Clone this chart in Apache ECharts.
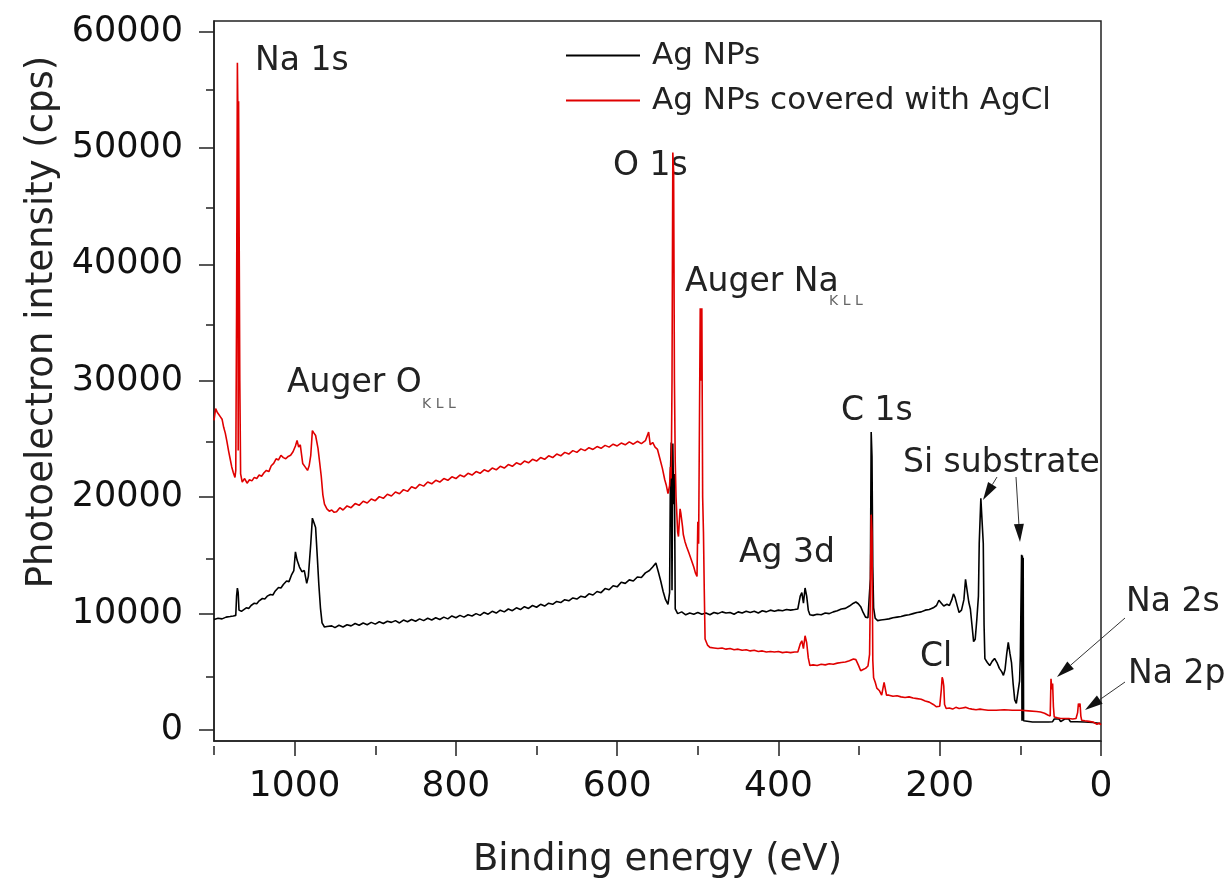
<!DOCTYPE html>
<html>
<head>
<meta charset="utf-8">
<script src="https://cdn.jsdelivr.net/npm/echarts@6/dist/echarts.min.js"></script>
<style>html,body{margin:0;padding:0;background:#fff;}#c{width:1226px;height:884px;}</style>
</head>
<body>
<div id="c"></div>
<script>
// ---- data (binding energy eV, intensity cps) ----
const seriesNames = ['Ag NPs', 'Ag NPs covered with AgCl'];
const xTickValues = [0, 200, 400, 600, 800, 1000];
const xMinorTickValues = [100, 300, 500, 700, 900, 1100];
const yTickValues = [0, 10000, 20000, 30000, 40000, 50000, 60000];
const yMinorTickValues = [5000, 15000, 25000, 35000, 45000, 55000];

const agNPs = [
[1100,9500],[1095,9600],[1090,9550],[1085,9700],[1080,9750],[1076,9800],[1073,9850],[1072,11500],[1071,12200],[1070,11800],[1069,10300],
[1066,10200],[1063,10350],[1060,10500],[1057,10450],[1054,10700],[1050,10900],[1047,10850],[1044,11100],[1040,11300],[1037,11250],
[1034,11500],[1030,11650],[1027,11600],[1024,11950],[1020,12250],[1017,12200],[1014,12500],[1010,12800],[1007,12750],[1004,13300],
[1001,13700],[999,15300],[997,14600],[994,14000],[991,13600],[988,13700],[985,12600],[983,13200],[980,16000],[978,18200],[976,17800],
[974,17400],[972,15000],[970,12500],[968,10500],[966,9200],[963,8850],[960,8900],
[958,8750],[954,8950],[950,8800],[945,9000],[940,8850],[935,9050],[930,8950],[925,9150],[920,9000],[915,9200],[910,9050],[905,9250],
[900,9100],[895,9300],[890,9150],[885,9350],[880,9250],[875,9400],[870,9200],[865,9450],[860,9300],[855,9500],[850,9350],[845,9550],
[840,9400],[835,9600],[830,9450],[825,9650],[820,9500],[815,9700],[810,9550],[805,9800],[800,9650],[795,9850],[790,9700],[785,9900],
[780,9800],[775,10000],[770,9850],[765,10100],[760,9950],[755,10200],[750,10050],[745,10300],[740,10150],[735,10400],[730,10250],
[725,10500],[720,10350],[715,10600],[710,10450],[705,10700],[700,10550],[695,10800],[690,10650],[685,10900],[680,10800],[675,11050],
[670,10950],[665,11200],[660,11100],[655,11350],[650,11250],[645,11500],[640,11400],[635,11700],[630,11600],[625,11900],[620,11800],
[615,12150],[610,12050],[605,12400],[600,12300],[595,12700],[590,12600],[585,12900],[580,12800],[575,13150],[570,13100],[565,13500],
[560,13700],[556,14000],[552,14350],[549,13600],[546,12800],[543,11900],[540,11200],[537,10800],[535,11800],[534,22000],[533,24700],
[532,12000],[531,24600],[530,19400],[529,22000],[528,10400],[525,10000],[520,10150],[515,9900],[510,10050],[505,9950],[500,10100],
[495,9950],[490,10050],[485,9900],[480,10100],[475,10000],[470,10150],[465,10050],[460,10100],[455,9950],[450,10150],[445,10050],
[440,10200],[435,10100],[430,10200],[425,10050],[420,10250],[415,10150],[410,10300],[405,10200],[400,10300],[395,10250],[390,10350],
[385,10300],[380,10350],[376,10400],[373,11500],[371,11800],[369,10900],[367,12200],[365,11500],[363,10300],[361,9900],[357,9850],
[352,9950],[347,9900],[342,10050],[337,10000],[332,10150],[327,10250],[322,10400],[317,10450],[312,10650],[307,10900],[304,11000],
[301,10850],[298,10600],[295,10100],[292,9700],[289,9650],[287,9800],[286,13000],[285,25600],[284,23500],[283,14000],[282,10500],
[280,9600],[277,9400],[273,9450],[268,9500],[263,9550],[258,9650],[253,9700],[248,9750],[243,9850],[238,9900],[233,10000],[228,10100],
[223,10150],[218,10300],[213,10350],[208,10500],[204,10700],[201,11150],[198,10900],[195,10650],[191,10800],[188,10700],[185,11200],
[183,11700],[181,11400],[178,10600],[176,10100],[173,10300],[170,11200],[168,12950],[166,12900],[164,11000],[162,10400],[160,9000],
[158,7600],[156,7800],[154,9500],[152,11500],[151,16050],[149,19900],[147,19900],[146,16050],[145,9000],[144,6130],[141,5800],
[138,5540],[135,5900],[132,6150],[129,5800],[126,5300],[123,5000],[121,4700],[119,5200],[117,6500],[115,7530],[113,6600],[111,5800],
[109,4000],[107,2600],[105,2300],[103,2150],[101,4200],[100,6400],[98.5,15060],[98,800],[97.5,15000],[97,800],[96.5,14800],[96,800],
[95,700],[94,700],[85,700],[75,700],[65,700],[60,720],[58,950],[52,950],[50,720],[45,950],[40,950],[38,720],[30,720],[20,700],
[10,650],[5,600],[0,550]
];

const agNPsAgCl = [
[1100,26600],[1098,27600],[1096,27300],[1094,27400],[1092,26900],[1090,26700],[1088,26000],[1086,25500],[1084,24800],[1082,24000],
[1080,23300],[1078,22600],[1076,22100],[1074,21700],[1073,22300],[1072,36000],[1071,57300],[1070.5,54000],[1070,24000],[1069.5,54000],
[1069,54000],[1068,30000],[1067,22000],[1065,21300],[1062,21600],[1059,21200],[1056,21500],[1053,21400],[1050,21700],[1047,21600],
[1044,21900],[1041,21800],[1038,22100],[1035,22300],[1032,22200],[1029,22700],[1026,22900],[1023,23300],[1020,23200],[1017,23600],
[1014,23400],[1011,23300],[1008,23500],[1005,23600],[1002,23900],[999,24400],[997,24870],[995,24300],[993,24500],[990,22900],
[987,22600],[984,22300],[982,22700],[980,23600],[978,25720],[976,25500],[974,25300],[971,24200],[969,23000],[967,21800],[965,20200],
[963,19400],[960,19000],[957,18800],[954,18900],[951,18700],[948,18750],
[944,19100],[940,18900],[935,19250],[930,19100],[925,19450],[920,19300],[915,19650],[910,19500],[905,19850],[900,19700],[895,20050],
[890,19900],[885,20250],[880,20100],[875,20450],[870,20300],[865,20650],[860,20500],[855,20900],[850,20750],[845,21100],[840,20950],
[835,21300],[830,21150],[825,21450],[820,21300],[815,21600],[810,21450],[805,21750],[800,21600],[795,21900],[790,21750],[785,22050],
[780,21900],[775,22200],[770,22050],[765,22350],[760,22200],[755,22500],[750,22350],[745,22650],[740,22500],[735,22800],[730,22650],
[725,22950],[720,22800],[715,23100],[710,22950],[705,23250],[700,23100],[695,23400],[690,23250],[685,23550],[680,23400],[675,23700],
[670,23550],[665,23850],[660,23700],[655,24000],[650,23850],[645,24150],[640,24000],[635,24250],[630,24100],[625,24350],[620,24200],
[615,24450],[610,24300],[605,24550],[600,24400],[595,24650],[590,24500],[585,24750],[580,24550],[575,24800],[570,24600],[565,24850],
[563,24700],[561,25600],[559,24500],[556,24700],[553,24300],[550,24100],[547,23300],[544,22500],[541,21500],[539,21000],[537,20300],
[535,21000],[534,22600],[533,21600],[532,30000],[531,49600],[530,48000],[529,30000],[528,23000],[527,20000],[525,17000],[524,16620],
[522,19000],[521,18600],[519,17500],[518,16800],[516,16200],[514,15770],[511,15200],[508,14600],[505,14000],[503,13500],[501,13200],
[500,17900],[499,16000],[497,36230],[496,30000],[495,36230],[494,20000],[493,17000],[492,12000],[491,7820],[488,7300],[485,7100],
[480,7050],[475,7000],[470,7050],[465,6950],[460,7000],[455,6900],[450,6950],[445,6850],[440,6900],[435,6800],[430,6850],[425,6750],
[420,6800],[415,6700],[410,6750],[405,6700],[400,6750],[395,6650],[390,6700],[385,6650],[380,6700],[376,6700],[373,7400],[371,7670],
[369,7000],[367,8100],[365,7500],[363,6200],[361,5540],[357,5600],[352,5550],[347,5650],[342,5600],[337,5700],[332,5650],[327,5750],
[322,5800],[317,5850],[312,5950],[307,6100],[304,6050],[301,5600],[298,5100],[295,5200],[292,5300],[289,5500],[287,6500],[286,12000],
[285,18500],[284,17000],[283,6000],[282,4500],[280,4100],[278,3600],[275,3400],[272,3000],[270,3100],[269,4100],[268,4000],[266,3000],
[263,3000],[258,2900],[253,2950],[248,2850],[243,2800],[238,2850],[233,2750],[228,2700],[223,2650],[218,2500],[213,2400],[208,2200],
[204,2000],[200,2050],[198,3500],[197,4540],[196,4300],[195,3800],[194,2200],[192,1850],[188,1900],[184,1800],[180,1950],[176,1850],
[172,1900],[168,1950],[164,1850],[160,1800],[155,1750],[150,1800],[145,1750],[140,1700],[130,1700],[120,1750],[110,1700],[100,1700],
[90,1650],[80,1600],[75,1550],[70,1450],[66,1300],[63,1200],[62,4400],[61,3500],[60,4000],[59,2000],[58,1130],[54,1050],[50,1000],
[45,1000],[40,1000],[35,950],[31,1000],[29,1500],[28,2280],[27,2000],[26,2280],[25,1200],[24,850],[20,800],[15,750],[10,700],
[5,500],[2,600],[0,450]
];

// ---- layout / style ----
const FONT = 'DejaVu Sans';
const TXT = '#222';
const gridBox = {left: 214, right: 125, top: 21, bottom: 138};

function annot(text, x, y, size, fill) {
  return {type: 'text', x: x, y: y, silent: true,
    style: {text: text, font: (size || 33) + 'px "' + FONT + '"', fill: fill || TXT, textVerticalAlign: 'middle', textAlign: 'left'}};
}
function arrow(x1, y1, x2, y2) {
  const dx = x2 - x1, dy = y2 - y1, L = Math.hypot(dx, dy), ux = dx / L, uy = dy / L;
  const hl = 18, hw = 5;
  const bx = x2 - ux * hl, by = y2 - uy * hl;
  return [
    {type: 'line', silent: true, shape: {x1: x1, y1: y1, x2: bx, y2: by}, style: {stroke: '#333', lineWidth: 1}},
    {type: 'polygon', silent: true, shape: {points: [[x2, y2], [bx - uy * hw, by + ux * hw], [bx + uy * hw, by - ux * hw]]}, style: {fill: '#111'}}
  ];
}

const graphics = [
  annot('Na 1s', 255, 61),
  annot('Auger O', 287, 383),
  annot('K L L', 422, 404, 14, '#666'),
  annot('O 1s', 613, 166),
  annot('Auger Na', 685, 282),
  annot('K L L', 829, 301, 14, '#666'),
  annot('C 1s', 841, 411),
  annot('Si substrate', 903, 463),
  annot('Ag 3d', 739, 553),
  annot('Cl', 920, 657),
  annot('Na 2s', 1126, 602),
  annot('Na 2p', 1128, 674)
].concat(arrow(997, 477, 983, 500))
 .concat(arrow(1016, 477, 1020, 542))
 .concat(arrow(1125, 618, 1057, 677))
 .concat(arrow(1125, 682, 1085, 710));

const yMin = -938, yMax = 60895;
const plainNumber = function (v) { return String(v); };

const chart = echarts.init(document.getElementById('c'), null, {renderer: 'canvas'});
chart.setOption({
  animation: false,
  backgroundColor: '#fff',
  textStyle: {fontFamily: FONT},
  legend: {
    orient: 'vertical', left: 566, top: 40, padding: 0, itemGap: 14,
    itemWidth: 74, itemHeight: 2, icon: 'rect',
    textStyle: {fontSize: 31, color: TXT, fontFamily: FONT, padding: [0, 0, 0, 7]},
    data: seriesNames
  },
  grid: [
    Object.assign({show: true, borderColor: '#222', borderWidth: 1.5, backgroundColor: 'transparent'}, gridBox),
    Object.assign({show: false}, gridBox)
  ],
  xAxis: [
    {
      gridIndex: 0, type: 'value', min: 0, max: 1100, inverse: true,
      name: 'Binding energy (eV)', nameLocation: 'middle', nameGap: 101,
      nameTextStyle: {fontSize: 37, color: TXT, fontFamily: FONT},
      axisLine: {show: true, onZero: false, lineStyle: {color: '#222', width: 1.5}},
      axisTick: {show: true, customValues: xTickValues, length: 15, lineStyle: {color: '#222', width: 1.5}},
      axisLabel: {show: true, customValues: xTickValues, formatter: plainNumber, fontSize: 36, color: '#111', margin: 28, fontFamily: FONT},
      splitLine: {show: false}
    },
    {
      gridIndex: 1, type: 'value', min: 0, max: 1100, inverse: true,
      axisLine: {show: false, onZero: false},
      axisTick: {show: true, customValues: xMinorTickValues, length: 9, lineStyle: {color: '#222', width: 1.5}},
      axisLabel: {show: false}, splitLine: {show: false}
    }
  ],
  yAxis: [
    {
      gridIndex: 0, type: 'value', min: yMin, max: yMax,
      name: 'Photoelectron intensity (cps)', nameLocation: 'middle', nameGap: 152, nameRotate: 90,
      nameTextStyle: {fontSize: 37, color: TXT, fontFamily: FONT, padding: [0, 0, 0, 118]},
      axisLine: {show: true, onZero: false, lineStyle: {color: '#222', width: 1.5}},
      axisTick: {show: true, customValues: yTickValues, length: 15, lineStyle: {color: '#222', width: 1.5}},
      axisLabel: {show: true, customValues: yTickValues, formatter: plainNumber, fontSize: 35, color: '#111', margin: 31, fontFamily: FONT},
      splitLine: {show: false}
    },
    {
      gridIndex: 1, type: 'value', min: yMin, max: yMax,
      axisLine: {show: false, onZero: false},
      axisTick: {show: true, customValues: yMinorTickValues, length: 8, lineStyle: {color: '#222', width: 1.5}},
      axisLabel: {show: false}, splitLine: {show: false}
    }
  ],
  series: [
    {name: seriesNames[0], type: 'line', xAxisIndex: 0, yAxisIndex: 0, data: agNPs, symbol: 'none', showSymbol: false,
     lineStyle: {color: '#000', width: 1.6}, itemStyle: {color: '#000'}, z: 2},
    {name: seriesNames[1], type: 'line', xAxisIndex: 0, yAxisIndex: 0, data: agNPsAgCl, symbol: 'none', showSymbol: false,
     lineStyle: {color: '#e00000', width: 1.6}, itemStyle: {color: '#e00000'}, z: 3}
  ],
  graphic: graphics
});
</script>
</body>
</html>
